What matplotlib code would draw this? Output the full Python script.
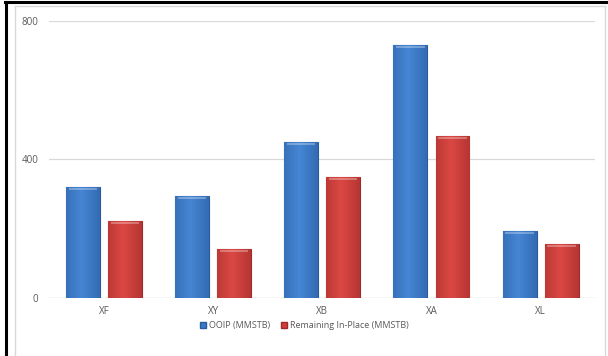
import numpy as np
import matplotlib
matplotlib.use("Agg")
import matplotlib.pyplot as plt
from matplotlib.lines import Line2D
from matplotlib.patches import Rectangle

# data
fields = ["XF", "XY", "XB", "XA", "XL"]
ooip = [321, 295, 451, 731, 194]
remaining = [222, 142, 350, 468, 156]
series_names = ["OOIP (MMSTB)", "Remaining In-Place (MMSTB)"]

plt.rcParams['font.family'] = ['Open Sans', 'DejaVu Sans']

fig = plt.figure(figsize=(6.08, 3.56), dpi=100)
ax = fig.add_axes([0.081, 0.163, 0.898, 0.778])

x = np.arange(len(fields))
w = 0.31
gap = 0.075
off = (w + gap) / 2


def gradient_bars(bars, light, dark):
    # horizontal shading across each bar, like the excel bevel look
    t = np.linspace(0, 1, 64)
    prof = 1 - np.abs(t - 0.45) * 1.4
    prof = np.clip(prof, 0, 1)
    light = np.array(matplotlib.colors.to_rgb(light))
    dark = np.array(matplotlib.colors.to_rgb(dark))
    img = dark[None, :] + (light - dark)[None, :] * prof[:, None]
    img = img[None, :, :]
    for b in bars:
        x0, y0 = b.get_x(), b.get_y()
        bw, bh = b.get_width(), b.get_height()
        im = ax.imshow(img, extent=[x0, x0 + bw, y0, y0 + bh], aspect='auto',
                       interpolation='bilinear', zorder=3)
        im.set_clip_path(b)
        # top highlight strip
        ax.add_patch(Rectangle((x0 + bw * 0.08, y0 + bh - 8), bw * 0.84, 5,
                               facecolor='white', alpha=0.3, lw=0, zorder=4))


b1 = ax.bar(x - off, ooip, w, color='#3a78c9', edgecolor='#2a5a9a', lw=0.8,
            zorder=3, label=series_names[0])
b2 = ax.bar(x + off, remaining, w, color='#d23c3a', edgecolor='#9c2a28', lw=0.8,
            zorder=3, label=series_names[1])
gradient_bars(b1, '#4686d4', '#2e64aa')
gradient_bars(b2, '#dc4844', '#aa302d')

ax.set_xlim(-0.5, len(fields) - 0.5)
ax.set_ylim(0, 800)
ax.set_yticks([0, 400, 800])
ax.set_xticks(x)
ax.set_xticklabels(fields)
ax.tick_params(axis='both', length=0, labelsize=7, colors='#595959')
ax.tick_params(axis='y', pad=8)
ax.tick_params(axis='x', pad=6)
ax.grid(axis='y', color='#d9d9d9', lw=0.9, zorder=0)
for s in ax.spines.values():
    s.set_visible(False)
ax.axhline(0, color='#d9d9d9', lw=0.9, zorder=2)

handles = [Rectangle((0, 0), 1, 1, facecolor='#3a78c9', edgecolor='#2a5a9a'),
           Rectangle((0, 0), 1, 1, facecolor='#d23c3a', edgecolor='#9c2a28')]
fig.legend(handles, series_names, loc='center', bbox_to_anchor=(0.5, 0.085),
           ncol=2, frameon=False, fontsize=6.5, handlelength=0.7, handleheight=0.7,
           handletextpad=0.3, columnspacing=1.2, labelcolor='#595959')

# chart area frame and the outer black border
fig.add_artist(Line2D([0.025, 0.025], [0.0, 0.983], color='#d9d9d9', lw=1))
fig.add_artist(Line2D([0.995, 0.995], [0.0, 0.983], color='#d9d9d9', lw=1))
fig.add_artist(Line2D([0.025, 0.995], [0.983, 0.983], color='#d9d9d9', lw=1))
fig.add_artist(Line2D([0.010, 0.010], [0.0, 0.993], color='black', lw=2.2))
fig.add_artist(Line2D([0.009, 1.0], [0.993, 0.993], color='black', lw=2.2))

fig.savefig("out.png", dpi=100)
